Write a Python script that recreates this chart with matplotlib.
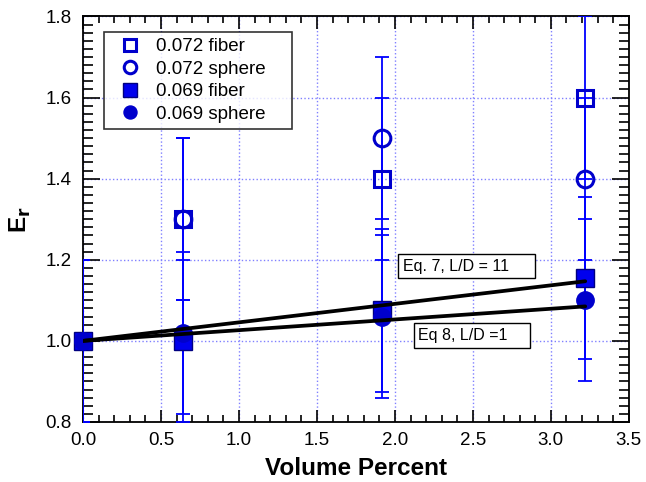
import matplotlib
matplotlib.use('Agg')
import matplotlib.pyplot as plt
from matplotlib.ticker import MultipleLocator, FormatStrFormatter
from matplotlib.patches import Rectangle

plt.rcParams['font.family'] = ['Liberation Sans', 'DejaVu Sans']

# data
x_072 = [0.64, 1.92, 3.22]
fiber_072 = [1.3, 1.4, 1.6]
sphere_072 = [1.3, 1.5, 1.4]
x_069 = [0.0, 0.64, 1.92, 3.22]
fiber_069 = [1.0, 1.0, 1.075, 1.155]
sphere_069 = [1.0, 1.02, 1.06, 1.1]
err = 0.2

eq_x = [0.0, 3.22]
eq7_y = [1.0, 1.147]
eq8_y = [1.0, 1.085]

dark = '#0000cc'
bar = '#0000ff'

fig = plt.figure(figsize=(6.46, 4.82), dpi=100)
ax = fig.add_axes([0.1285, 0.1245, 0.845, 0.8415])

# error bars
for xs, ys in [(x_072, fiber_072), (x_072, sphere_072), (x_069, fiber_069), (x_069, sphere_069)]:
    ax.errorbar(xs, ys, yerr=err, fmt='none', ecolor=bar, elinewidth=1.3,
                capsize=5, capthick=1.3, zorder=3)

# markers
ax.plot(x_072, fiber_072, 's', ms=11.5, mfc='none', mec=dark, mew=2.2,
        label='0.072 fiber', clip_on=False, zorder=4)
ax.plot(x_072, sphere_072, 'o', ms=12, mfc='none', mec=dark, mew=2.2,
        label='0.072 sphere', clip_on=False, zorder=4)
ax.plot(x_069, fiber_069, 's', ms=13, mfc='#0000ee', mec='#000080', mew=1,
        label='0.069 fiber', clip_on=False, zorder=4)
ax.plot(x_069, sphere_069, 'o', ms=12.5, mfc=dark, mec=dark, mew=1,
        label='0.069 sphere', clip_on=False, zorder=4)

# model lines
ax.plot(eq_x, eq7_y, color='black', lw=2.7, solid_capstyle='round', zorder=5)
ax.plot(eq_x, eq8_y, color='black', lw=2.7, solid_capstyle='round', zorder=5)

# labelled boxes for the two equations
ax.add_patch(Rectangle((2.019, 1.154), 0.878, 0.059, fc='white', ec='black', lw=1, zorder=6))
ax.add_patch(Rectangle((2.122, 0.983), 0.743, 0.060, fc='white', ec='black', lw=1, zorder=6))
ax.text(2.049, 1.183, 'Eq. 7, L/D = 11', fontsize=11.5, ha='left', va='center', zorder=7)
ax.text(2.147, 1.013, 'Eq 8, L/D =1', fontsize=11.5, ha='left', va='center', zorder=7)

ax.set_xlim(0, 3.5)
ax.set_ylim(0.8, 1.8)
ax.xaxis.set_major_locator(MultipleLocator(0.5))
ax.xaxis.set_minor_locator(MultipleLocator(0.1))
ax.yaxis.set_major_locator(MultipleLocator(0.2))
ax.yaxis.set_minor_locator(MultipleLocator(0.02))
ax.xaxis.set_major_formatter(FormatStrFormatter('%.1f'))
ax.yaxis.set_major_formatter(FormatStrFormatter('%.1f'))
ax.tick_params(which='both', direction='in', top=True, right=True, labelsize=13.5, width=1.2)
ax.tick_params(axis='x', which='major', length=9, pad=7)
ax.tick_params(axis='x', which='minor', length=5)
ax.tick_params(axis='y', which='major', length=12, pad=8)
ax.tick_params(axis='y', which='minor', length=7)
for s in ax.spines.values():
    s.set_linewidth(1.3)

ax.grid(which='major', color='#8080ff', ls=':', lw=1)
ax.set_axisbelow(True)

ax.set_xlabel('Volume Percent', fontsize=17.5, fontweight='bold', labelpad=6)
ax.set_ylabel(r'E$_\mathbf{r}$', fontsize=17.5, fontweight='bold', labelpad=9)

leg = ax.legend(loc='upper left', bbox_to_anchor=(0.0385, 0.961, 0.344, 0), mode='expand',
                fontsize=13.5, frameon=True, fancybox=False, borderaxespad=0,
                markerscale=0.75, handlelength=2.15, handletextpad=0.28,
                labelspacing=0.29, borderpad=0.32)
leg.get_frame().set_edgecolor('black')
leg.get_frame().set_linewidth(1.2)

fig.savefig('out.png', dpi=100)
